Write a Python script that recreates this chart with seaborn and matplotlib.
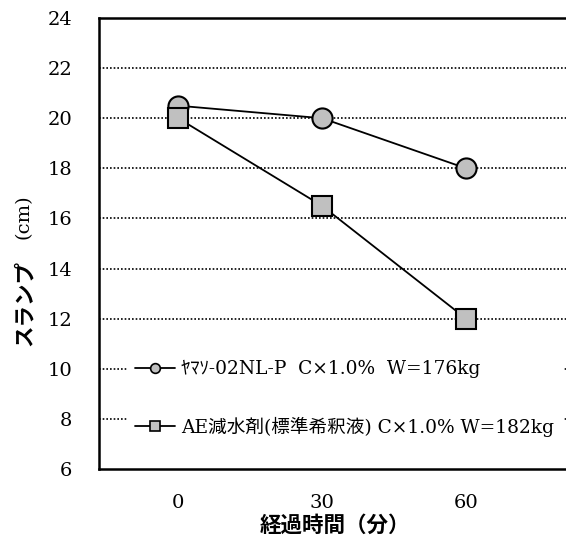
import numpy as np
import pandas as pd
import matplotlib
matplotlib.use('Agg')
import matplotlib.pyplot as plt
import seaborn as sns
from matplotlib.lines import Line2D

# ── Data ─────────────────────────────────────────────
minutes = [0, 30, 60]
slump_yamaso = [20.5, 20.0, 18.0]
slump_ae = [20.0, 16.5, 12.0]
label_yamaso = 'ﾔﾏｿ-02NL-P  C×1.0%  W=176kg'
label_ae = 'AE減水剤(標準希釈液) C×1.0% W=182kg'
y_ticks = [6, 8, 10, 12, 14, 16, 18, 20, 22, 24]
x_ticks = [0, 30, 60]

df = pd.DataFrame({
    'minutes': minutes * 2,
    'slump': slump_yamaso + slump_ae,
    'series': [label_yamaso] * 3 + [label_ae] * 3,
})

sns.set_theme(style='white')
SERIF = ['DejaVu Serif', 'Noto Sans CJK JP']
GOTHIC = ['Noto Sans CJK JP', 'DejaVu Sans']
plt.rcParams['font.family'] = SERIF
plt.rcParams['text.color'] = 'black'
plt.rcParams['axes.labelcolor'] = 'black'

fig = plt.figure(figsize=(5.66, 5.42), dpi=100)
ax = fig.add_axes([99 / 566, 1 - 469 / 542, (566 - 99) / 566 + 0.01, (469 - 18) / 542])

face = '#c0c0c0'
sns.lineplot(data=df[df['series'] == label_yamaso], x='minutes', y='slump',
             color='black', lw=1.3, marker='o', markersize=14.5,
             markerfacecolor=face, markeredgecolor='black', markeredgewidth=1.5,
             ax=ax, zorder=3)
sns.lineplot(data=df[df['series'] == label_ae], x='minutes', y='slump',
             color='black', lw=1.3, marker='s', markersize=15,
             markerfacecolor=face, markeredgecolor='black', markeredgewidth=1.5,
             ax=ax, zorder=3)

ax.set_xlim(-16.5, 82)
ax.set_ylim(6, 24)
ax.set_xticks(x_ticks)
ax.set_yticks(y_ticks)
ax.tick_params(direction='in', length=5, width=1.2, colors='black',
               labelsize=14)
ax.tick_params(axis='y', pad=19)
ax.tick_params(axis='x', pad=18)
for lab in ax.get_xticklabels() + ax.get_yticklabels():
    lab.set_family(SERIF)

for y in y_ticks[1:]:
    ax.axhline(y, color='black', lw=1.2, ls=(0, (1, 1.2)), zorder=1)

for side in ['left', 'bottom', 'top']:
    ax.spines[side].set_color('black')
    ax.spines[side].set_linewidth(1.8)
ax.spines['right'].set_visible(False)

ax.set_xlabel('経過時間（分）', family=GOTHIC, fontsize=15.5, fontweight='bold',
              color='black', labelpad=2)
ax.set_ylabel('')
fig.text(24 / 566, 1 - 346 / 542, 'スランプ', family=GOTHIC, fontsize=15.5,
         fontweight='bold', rotation=90, ha='center', va='bottom')
fig.text(24 / 566, 1 - 194 / 542, '(cm)', family=SERIF, fontsize=14,
         rotation=90, ha='center', va='top')

handles = [
    Line2D([], [], color='black', lw=1.3, marker='o', markersize=7,
           markerfacecolor=face, markeredgecolor='black', markeredgewidth=1.2),
    Line2D([], [], color='black', lw=1.3, marker='s', markersize=7,
           markerfacecolor=face, markeredgecolor='black', markeredgewidth=1.2),
]
leg = ax.legend(handles, [label_yamaso, label_ae], loc='upper left',
                bbox_to_anchor=(0.06, 0.258), frameon=True, fancybox=False,
                edgecolor='white', facecolor='white', framealpha=1,
                fontsize=13.4, handlelength=2.15, handletextpad=0.35,
                labelspacing=2.05, borderpad=0.4, borderaxespad=0)
leg.set_zorder(5)
for t in leg.get_texts():
    t.set_family(SERIF)
    t.set_color('black')

fig.savefig('out.png', dpi=100)
